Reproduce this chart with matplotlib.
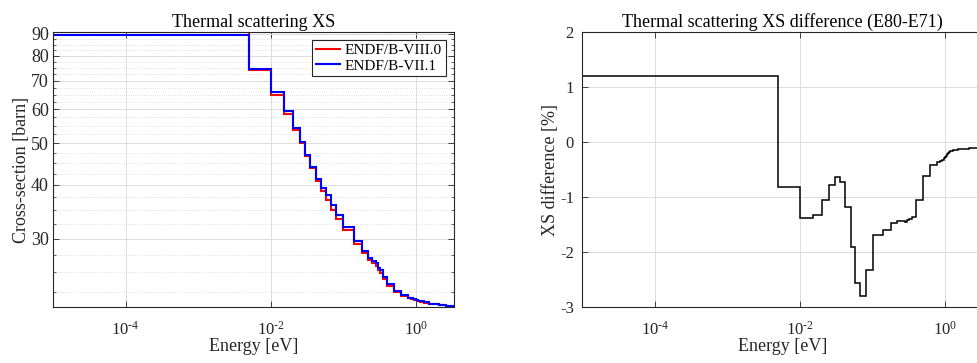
import numpy as np
import matplotlib
matplotlib.use("Agg")
import matplotlib.pyplot as plt
from matplotlib.ticker import FixedLocator, NullLocator, FixedFormatter, NullFormatter

plt.rcParams['font.family'] = ['Liberation Serif', 'DejaVu Serif']
plt.rcParams['mathtext.fontset'] = 'custom'
plt.rcParams['mathtext.rm'] = 'Liberation Serif'
plt.rcParams['mathtext.it'] = 'Liberation Serif:italic'
plt.rcParams['axes.unicode_minus'] = False

# group boundaries [eV]
edges = [1e-5, 0.005, 0.01, 0.015, 0.02, 0.025, 0.03, 0.035, 0.042, 0.05, 0.058,
         0.067, 0.08, 0.1, 0.14, 0.18, 0.22, 0.25, 0.28, 0.3, 0.32, 0.35, 0.4,
         0.5, 0.625, 0.78, 0.85, 0.91, 0.95, 0.972, 0.996, 1.02, 1.045, 1.071,
         1.097, 1.123, 1.15, 1.3, 1.5, 2.1, 2.6, 3.3]

# cross sections [barn]
xs_e80 = [90.8, 74.1, 65.0, 58.7, 53.8, 50.05, 46.7, 43.8, 40.8, 38.65, 36.8,
          35.0, 33.27, 31.36, 29.1, 27.68, 26.7, 26.25, 25.9, 25.3, 24.95, 24.12,
          23.23, 22.47, 22.03, 21.75, 21.68, 21.63, 21.6, 21.57, 21.54, 21.51,
          21.48, 21.45, 21.42, 21.39, 21.35, 21.25, 21.1, 20.95, 20.85]
xs_e71 = [89.7, 74.7, 65.9, 59.5, 54.4, 50.45, 47.0, 44.1, 41.3, 39.4, 37.8,
          36.0, 34.07, 31.9, 29.57, 28.1, 27.09, 26.63, 26.28, 25.67, 25.3, 24.45,
          23.48, 22.6, 22.12, 21.83, 21.76, 21.71, 21.67, 21.64, 21.6, 21.57,
          21.53, 21.5, 21.47, 21.43, 21.39, 21.28, 21.13, 20.97, 20.87]

# difference [%]
xs_diff = [1.21, -0.81, -1.39, -1.33, -1.05, -0.78, -0.64, -0.72, -1.19, -1.92,
           -2.57, -2.80, -2.34, -1.69, -1.60, -1.48, -1.43, -1.44, -1.45, -1.42,
           -1.40, -1.36, -1.06, -0.62, -0.41, -0.37, -0.35, -0.33, -0.31, -0.29,
           -0.27, -0.25, -0.23, -0.21, -0.20, -0.19, -0.17, -0.14, -0.12, -0.11,
           -0.10]

xticks = [1e-4, 1e-2, 1]
xticklabels = [r'$10^{\text{-4}}$', r'$10^{\text{-2}}$', r'$10^{0}$']

ax_col = '#262626'
grid_col = '#dcdcdc'

fig = plt.figure(figsize=(9.77, 3.63), dpi=100)
ax1 = fig.add_axes([53/977, 1-306.7/363, 400.5/977, 274.4/363])
ax2 = fig.add_axes([582.3/977, 1-306.7/363, 400.5/977, 274.4/363])

def style(ax):
    for s in ax.spines.values():
        s.set_color(ax_col)
        s.set_linewidth(0.8)
    ax.tick_params(which='both', direction='in', top=True, right=True,
                   colors=ax_col, labelsize=12)
    ax.tick_params(which='major', length=4, width=0.6, pad=6)
    ax.tick_params(which='minor', length=2.5, width=0.5)
    ax.tick_params(axis='x', which='major', pad=10)
    ax.set_axisbelow(True)

# left: cross sections
ax1.stairs(xs_e80, edges, baseline=None, color='#ff0000', lw=1.5, label='ENDF/B-VIII.0')
ax1.stairs(xs_e71, edges, baseline=None, color='#0000ff', lw=1.5, label='ENDF/B-VII.1')
ax1.set_xscale('log')
ax1.set_yscale('log')
ax1.set_xlim(1e-5, 3.3)
ax1.set_ylim(20.8, 90.8)
ax1.xaxis.set_major_locator(FixedLocator(xticks))
ax1.xaxis.set_major_formatter(FixedFormatter(xticklabels))
ax1.xaxis.set_minor_locator(NullLocator())
yt = [30, 40, 50, 60, 70, 80, 90]
ax1.yaxis.set_major_locator(FixedLocator(yt))
ax1.yaxis.set_major_formatter(FixedFormatter([str(v) for v in yt]))
ax1.yaxis.set_minor_locator(FixedLocator([v for v in np.arange(20, 92.5, 2.5) if v % 10]))
ax1.yaxis.set_minor_formatter(NullFormatter())
ax1.grid(True, which='major', color=grid_col, lw=0.7)
ax1.grid(True, which='minor', axis='y', color='#d8d8d8', lw=0.6, ls=':')
style(ax1)
ax1.tick_params(axis='y', which='major', labelsize=13, pad=3)
ax1.set_title('Thermal scattering XS', fontsize=13, color='black', pad=4)
ax1.set_xlabel('Energy [eV]', fontsize=13, color=ax_col, labelpad=0)
ax1.set_ylabel('Cross-section [barn]', fontsize=13, color=ax_col, labelpad=1)
leg = ax1.legend(loc='upper right', fontsize=11, fancybox=False, framealpha=1,
                 edgecolor=ax_col, handlelength=1.6, borderpad=0.25,
                 labelspacing=0.1, handletextpad=0.3, borderaxespad=0.5)
leg.get_frame().set_linewidth(0.8)

# right: difference
ax2.stairs(xs_diff, edges, baseline=None, color='black', lw=1.1)
ax2.set_xscale('log')
ax2.set_xlim(1e-5, 3.3)
ax2.set_ylim(-3, 2)
ax2.xaxis.set_major_locator(FixedLocator(xticks))
ax2.xaxis.set_major_formatter(FixedFormatter(xticklabels))
ax2.xaxis.set_minor_locator(NullLocator())
ax2.set_yticks([-3, -2, -1, 0, 1, 2])
ax2.grid(True, which='major', color=grid_col, lw=0.7)
style(ax2)
ax2.set_title('Thermal scattering XS difference (E80-E71)', fontsize=13, color='black', pad=4)
ax2.set_xlabel('Energy [eV]', fontsize=13, color=ax_col, labelpad=0)
ax2.set_ylabel('XS difference [%]', fontsize=13, color=ax_col, labelpad=1)

fig.savefig('out.png', dpi=100)
